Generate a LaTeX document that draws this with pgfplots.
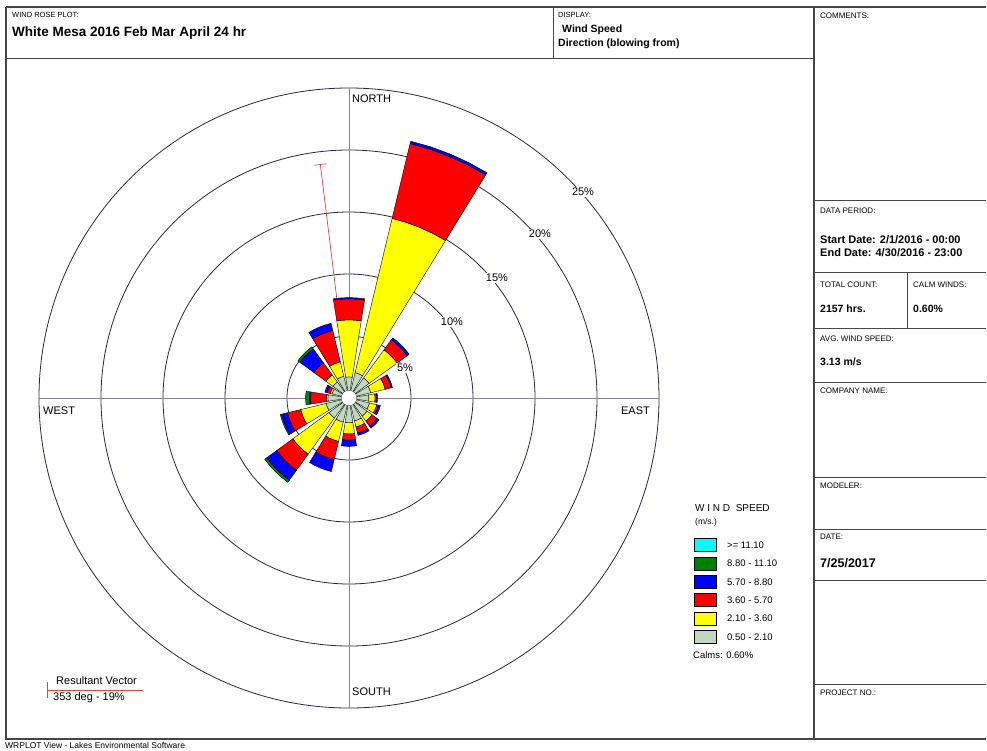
\documentclass[border=0pt]{standalone}
\usepackage{pgfplots}
\pgfplotsset{compat=1.18}
\usepackage{pgfplotstable}
\usepackage{fontspec}
\setmainfont{Liberation Sans}
\usetikzlibrary{arrows.meta}

\definecolor{bin1}{RGB}{192,216,192}
\definecolor{bin2}{RGB}{255,255,0}
\definecolor{bin3}{RGB}{255,0,0}
\definecolor{bin4}{RGB}{0,0,255}
\definecolor{bin5}{RGB}{0,128,0}
\definecolor{bin6}{RGB}{0,255,255}
\definecolor{axisline}{RGB}{128,128,170}
\definecolor{ringcol}{RGB}{40,40,60}
\definecolor{framecol}{RGB}{70,70,70}
\definecolor{resred}{RGB}{220,70,70}

% frequency (%) of each speed class, per direction (blowing from, degrees)
\pgfplotstableread{
dir   b1   b2    b3   b4   b5   b6
0     1.1  4.6   1.7  0.1  0    0
22.5  1.5  12.8  6.2  0.2  0    0
45    1.4  2.8   1.0  0.2  0    0
67.5  1.2  1.2   0.5  0.1  0    0
90    1.0  0.5   0.15 0.05 0    0
112.5 1.1  0.6   0.15 0.15 0    0
135   1.2  0.5   0.5  0.2  0    0
157.5 1.3  0.5   0.5  0.2  0    0
180   1.4  0.9   0.5  0.5  0    0
202.5 1.4  1.6   1.5  1.0  0    0
225   1.4  3.6   1.6  1.0  0.2  0
247.5 1.3  2.1   1.1  0.5  0.1  0
270   1.1  0.1   1.3  0.1  0.3  0
292.5 0.8  0.15  0.25 0.2  0    0
315   1.0  0.7   1.2  1.4  0.2  0
337.5 1.2  1.2   2.6  0.6  0    0
}\windtable
\def\calm{0.6}
\def\hw{9}
\newcommand\fs[1]{\fontsize{#1}{#1}\selectfont}

\begin{document}
\begin{tikzpicture}
\useasboundingbox (0pt,0pt) rectangle (987pt,-750pt);
\begin{scope}[x=1pt,y=1pt]
% frame
\draw[framecol, line width=1.2pt] (6,-7) -- (986,-7);
\draw[framecol, line width=1.2pt] (6,-7) -- (6,-739) -- (986,-739);
\draw[framecol, line width=0.8pt] (6,-58) -- (814,-58);
\draw[framecol, line width=0.8pt] (553,-7) -- (553,-58);
\draw[framecol, line width=1.2pt] (814,-7) -- (814,-739);
\foreach \yy in {200,272,328,382,477,529,580,684} {\draw[framecol, line width=0.8pt] (814,-\yy) -- (986,-\yy);}
\draw[framecol, line width=0.8pt] (907,-272) -- (907,-328);
% header
\node[anchor=west, inner sep=0] at (12,-15) {\fs{7.5}WIND ROSE PLOT:};
\node[anchor=west, inner sep=0] at (12,-33) {\fs{13.5}\bfseries White Mesa 2016 Feb Mar April 24 hr};
\node[anchor=west, inner sep=0] at (558,-15) {\fs{7.5}DISPLAY:};
\node[anchor=west, inner sep=0] at (562,-30) {\fs{10.5}\bfseries Wind Speed};
\node[anchor=west, inner sep=0] at (558,-44) {\fs{10.5}\bfseries Direction (blowing from)};
% right panel
\node[anchor=west, inner sep=0] at (820,-16) {\fs{8}COMMENTS:};
\node[anchor=west, inner sep=0] at (820,-211) {\fs{8}DATA PERIOD:};
\node[anchor=west, inner sep=0] at (820,-240) {\fs{11}\bfseries Start Date: 2/1/2016 - 00:00};
\node[anchor=west, inner sep=0] at (820,-253) {\fs{11}\bfseries End Date: 4/30/2016 - 23:00};
\node[anchor=west, inner sep=0] at (820,-285) {\fs{8}TOTAL COUNT:};
\node[anchor=west, inner sep=0] at (913,-285) {\fs{8}CALM WINDS:};
\node[anchor=west, inner sep=0] at (820,-309) {\fs{10.5}\bfseries 2157 hrs.};
\node[anchor=west, inner sep=0] at (913,-309) {\fs{10.5}\bfseries 0.60\%};
\node[anchor=west, inner sep=0] at (820,-339) {\fs{8}AVG. WIND SPEED:};
\node[anchor=west, inner sep=0] at (820,-362) {\fs{10.5}\bfseries 3.13 m/s};
\node[anchor=west, inner sep=0] at (820,-391) {\fs{8}COMPANY NAME:};
\node[anchor=west, inner sep=0] at (820,-486) {\fs{8}MODELER:};
\node[anchor=west, inner sep=0] at (820,-537) {\fs{8}DATE:};
\node[anchor=west, inner sep=0] at (820,-563) {\fs{12.5}\bfseries 7/25/2017};
\node[anchor=west, inner sep=0] at (820,-693) {\fs{8}PROJECT NO.:};
% footer
\node[anchor=west, inner sep=0] at (5,-745) {\fs{8.5}WRPLOT View - Lakes Environmental Software};
% compass labels
\node[anchor=west, inner sep=0] at (352,-99) {\fs{11}NORTH};
\node[anchor=west, inner sep=0] at (352,-692) {\fs{11}SOUTH};
\node[anchor=west, inner sep=0] at (43,-411) {\fs{11}WEST};
\node[anchor=east, inner sep=0] at (650,-411) {\fs{11}EAST};
% legend
\node[anchor=west, inner sep=0] at (695,-508) {\fs{10}W I N D \ SPEED};
\node[anchor=west, inner sep=0] at (695,-522) {\fs{8.5}(m/s.)};
\foreach \c/\yy/\lab in {6/545/{>= 11.10}, 5/563.5/{8.80 - 11.10}, 4/582/{5.70 - 8.80}, 3/600/{3.60 - 5.70}, 2/618.5/{2.10 - 3.60}, 1/637/{0.50 - 2.10}} {
  \filldraw[fill=bin\c, draw=black, line width=0.7pt] (694,-\yy+6.5) rectangle (716,-\yy-6.5);
  \node[anchor=west, inner sep=0] at (727,-\yy) {\fs{9.5}\lab};
}
\node[anchor=west, inner sep=0] at (693,-655) {\fs{9.5}Calms: 0.60\%};
% resultant vector key
\draw[resred, line width=0.8pt] (47,-682) -- (47,-698);
\draw[resred, line width=0.8pt] (47,-690) -- (143,-690);
\node[anchor=west, inner sep=0] at (56,-681) {\fs{11}Resultant Vector};
\node[anchor=west, inner sep=0] at (53,-698) {\fs{11}353 deg - 19\%};
\end{scope}

\begin{axis}[at={(349pt,-398pt)}, anchor=center, scale only axis,
  width=620pt, height=620pt, xmin=-25, xmax=25, ymin=-25, ymax=25,
  hide axis, clip=false]
\pgfplotsinvokeforeach{5,10,15,20,25}{
  \draw[ringcol, line width=0.8pt] (axis cs:0,0) circle[radius=#1];
}
\draw[axisline, line width=0.8pt] (axis cs:-25,0) -- (axis cs:25,0);
\draw[axisline, line width=0.8pt] (axis cs:0,-25) -- (axis cs:0,25);
% resultant vector
\addplot[resred, line width=0.7pt, data cs=polar, -{Bar[width=12pt,line width=0.7pt]}]
  table[x expr={90-\thisrow{dir}}, y=pct, row sep=\\] {dir pct\\ 353 0\\ 353 19\\};
% petals
\pgfplotsforeachungrouped \i in {0,...,15}{%
  \pgfplotstablegetelem{\i}{dir}\of\windtable
  \pgfmathsetmacro\th{90-\pgfplotsretval}%
  \pgfmathsetmacro\aL{\th-\hw}%
  \pgfmathsetmacro\aLm{\th-\hw/2}%
  \pgfmathsetmacro\aRm{\th+\hw/2}%
  \pgfmathsetmacro\aR{\th+\hw}%
  \let\ra\calm
  \pgfplotsforeachungrouped \k in {1,...,6}{%
    \pgfplotstablegetelem{\i}{b\k}\of\windtable
    \let\val\pgfplotsretval
    \pgfmathsetmacro\rb{\ra+\val}%
    \ifdim\val pt>0pt
      \edef\cmd{\noexpand\addplot[draw=black,line width=0.4pt,fill=bin\k,data cs=polar] coordinates {(\aL,\ra) (\aL,\rb) (\aLm,\rb) (\th,\rb) (\aRm,\rb) (\aR,\rb) (\aR,\ra) (\aRm,\ra) (\th,\ra) (\aLm,\ra) (\aL,\ra)};}%
      \cmd
    \fi
    \let\ra\rb
  }%
}
\fill[white] (axis cs:0,0) circle[radius=0.6];
\end{axis}

\begin{scope}[x=1pt,y=1pt]
\foreach \lab/\xx/\yy in {5/405/368, 10/452/322, 15/497/278, 20/540/234, 25/583/192} {
  \node[fill=white, inner sep=1pt] at (\xx,-\yy) {\fs{11}\lab\%};
}
\end{scope}
\end{tikzpicture}
\end{document}
